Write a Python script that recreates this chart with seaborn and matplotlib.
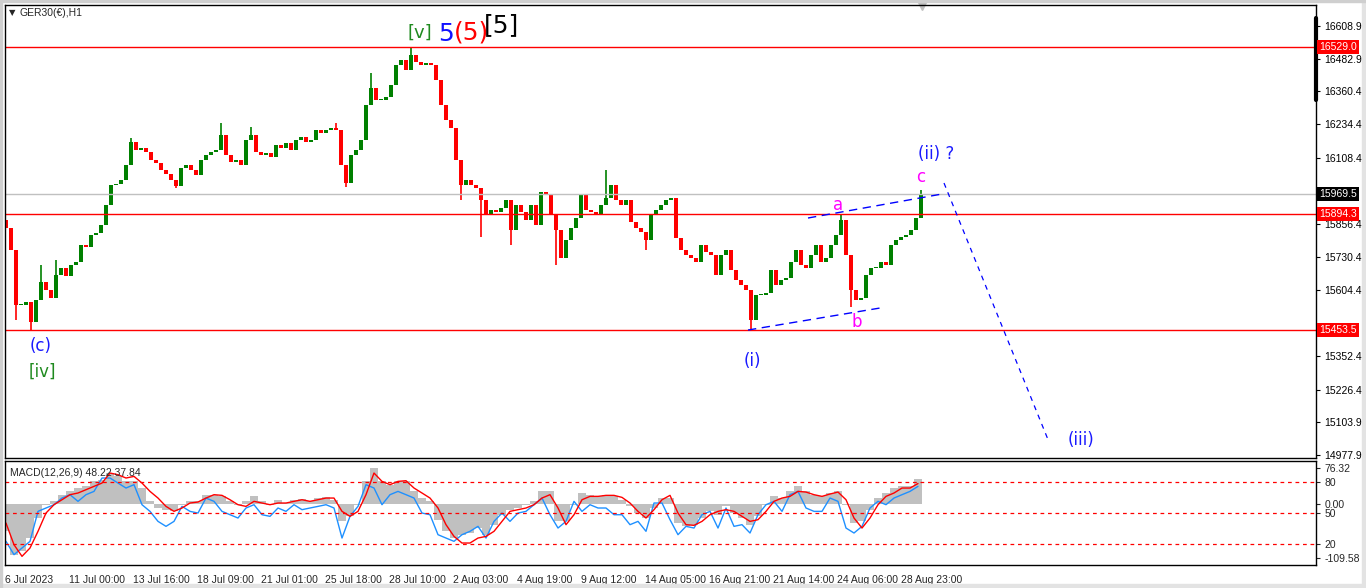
import numpy as np
import pandas as pd
import seaborn as sns
from matplotlib import pyplot as plt
from matplotlib import transforms
from matplotlib.patches import Rectangle

sns.set_style("white")
plt.rcParams['font.family'] = ['Liberation Sans', 'DejaVu Sans']

# GER30 H1 closes, one value every 5 hourly bars -->
closes = [
    15841, 15757, 15548, 15548, 15559, 15483, 15567, 15636, 15605, 15575,
    15662, 15689, 15658, 15700, 15712, 15776, 15769, 15814, 15822, 15852,
    15928, 16004, 16008, 16023, 16080, 16168, 16137, 16145, 16130, 16099,
    16088, 16061, 16046, 16023, 16000, 16069, 16080, 16061, 16042, 16099,
    16118, 16130, 16137, 16194, 16118, 16092, 16099, 16080, 16175, 16194,
    16130, 16118, 16126, 16111, 16156, 16145, 16164, 16137, 16175, 16187,
    16168, 16175, 16213, 16202, 16213, 16221, 16213, 16080, 16012, 16118,
    16137, 16175, 16308, 16373, 16327, 16327, 16339, 16385, 16461, 16480,
    16442, 16499, 16472, 16461, 16468, 16461, 16404, 16308, 16252, 16221,
    16099, 16004, 16023, 16004, 15993, 15947, 15890, 15909, 15902, 15917,
    15947, 15833, 15928, 15902, 15871, 15928, 15852, 15978, 15966, 15890,
    15833, 15727, 15795, 15841, 15879, 15966, 15909, 15902, 15890, 15928,
    15955, 16004, 15947, 15928, 15947, 15864, 15841, 15826, 15795, 15890,
    15909, 15928, 15947, 15955, 15803, 15757, 15738, 15727, 15712, 15776,
    15750, 15738, 15662, 15738, 15757, 15681, 15643, 15624, 15605, 15491,
    15586, 15586, 15594, 15681, 15624, 15643, 15651, 15712, 15757, 15700,
    15689, 15738, 15776, 15712, 15727, 15776, 15814, 15871, 15738, 15605,
    15567, 15575, 15662, 15689, 15689, 15712, 15700, 15776, 15795, 15807,
    15814, 15833, 15879, 15970]
first_open = 15871
bar_step = 5

# notable wick extremes (bar, price) -->
spike_bars = [9, 26, 35, 53, 126, 171, 215, 248, 331, 340, 366, 407, 455, 477,
              505, 552, 603, 640, 745, 834, 847, 917]
spike_prices = [15491, 15453, 15700, 15719, 16183, 15993, 16240, 16225, 16240, 15997,
                16430, 16529, 15947, 15807, 15776, 15700, 16061, 15757, 15453, 15894,
                15540, 15985]

# MACD panel, one value every 8 bars -->
macd_hist = [
    -49.4, -91.1, -85.2, -61.4, -25.6, -1.8, 4.2, 16.1, 22.0, 28.0,
    31.0, 39.9, 42.9, 54.8, 48.8, 39.9, 39.9, 28.0, 4.2, -7.7,
    -10.7, -13.7, -1.8, 4.2, 4.2, 16.1, 16.1, 13.1, 4.2, -1.8,
    4.2, 13.1, 4.2, -1.8, 7.1, 1.2, 7.1, 8.9, 4.2, 10.1,
    11.3, 7.1, -31.6, -22.6, -1.8, 39.9, 63.7, 39.9, 34.0, 39.9,
    39.9, 22.0, 10.1, 4.2, -28.6, -49.4, -61.4, -55.4,
    -52.4, -43.5, -55.4, -37.5, -19.7, -10.7, -7.7, -1.8, 4.2, 22.0,
    22.0, -31.6, -31.6, -1.8, 19.1, 16.1, 13.1, 16.1, 13.1, 7.1,
    -4.8, -16.7, -25.6, -7.7, 10.1, 10.1, -34.6, -40.5, -37.5, -25.6,
    -13.7, -19.7, -4.8, -16.7, -25.6, -37.5, -22.6, -1.8, 13.1, 10.1,
    22.0, 31.0, 22.0, 16.1, 13.1, 19.1, 22.0, -1.8, -34.6, -31.6,
    -10.7, 10.1, 19.1, 28.0, 31.0, 31.0, 44.0]
macd_signal = [
    -34.6, -73.3, -94.1, -79.2, -49.4, -16.7, -1.8, 7.1, 16.1, 19.1,
    25.0, 31.0, 36.9, 54.8, 51.8, 45.9, 48.8, 36.9, 22.0, 10.1,
    -4.8, -13.7, -7.7, 1.2, 3.0, 10.1, 16.1, 14.9, 7.1, -1.8,
    -4.8, 4.2, 1.2, -1.8, 1.2, 1.2, 4.2, 7.1, 4.2, 7.1,
    10.1, 10.1, -13.7, -22.6, -13.7, 16.1, 54.8, 39.9, 34.0, 39.9,
    41.1, 28.0, 19.1, 10.1, -7.7, -37.5, -58.4, -70.3,
    -70.3, -61.4, -58.4, -49.4, -31.6, -13.7, -10.7, -7.7, -1.8, 10.1,
    16.1, -7.7, -37.5, -19.7, 7.1, 13.1, 13.1, 14.9, 14.9, 11.3,
    1.2, -13.7, -25.6, -10.7, 7.1, 14.9, -16.7, -37.5, -38.7, -31.6,
    -19.7, -13.7, -10.7, -13.7, -22.6, -31.6, -28.6, -13.7, 4.2, 10.1,
    13.1, 22.0, 20.8, 16.1, 13.1, 17.3, 20.8, 7.1, -25.6, -43.5,
    -25.6, -1.8, 13.1, 19.1, 28.0, 28.0, 36.0]
macd_fast = [
    -67.3, -91.1, -79.2, -67.3, -13.7, -7.7, -1.8, 10.1, 16.1, 4.2,
    16.1, 22.0, 45.9, 45.9, 36.9, 28.0, 34.0, -1.8, -13.7, -31.6,
    -40.5, -31.6, -4.8, -13.7, -16.7, 10.1, 4.2, -13.7, -19.7, -25.6,
    -7.7, -1.8, -19.7, -22.6, -7.7, -13.7, -1.8, -10.7, -7.7, -4.8,
    -1.8, -7.7, -61.4, -22.6, -4.8, 34.0, 28.0, -1.8, 16.1, 22.0,
    16.1, 10.1, -16.7, -19.7, -55.4, -61.4, -67.3, -55.4,
    -49.4, -40.5, -61.4, -31.6, -16.7, -31.6, -16.7, -13.7, -1.8, 10.1,
    -19.7, -43.5, -31.6, 4.2, -13.7, -1.8, -7.7, -7.7, -19.7, -19.7,
    -37.5, -31.6, -49.4, 1.2, 1.2, -28.6, -55.4, -40.5, -43.5, -19.7,
    -13.7, -43.5, -7.7, -40.5, -37.5, -52.4, -19.7, -1.8, 4.2, -13.7,
    16.1, 22.0, -7.7, -13.7, -13.7, 10.1, 4.2, -43.5, -52.4, -40.5,
    -7.7, 4.2, -1.8, 10.1, 16.1, 22.0, 31.0]
macd_step = 8

# axis / levels -->
price_ticks = [16608.9, 16482.9, 16360.4, 16234.4, 16108.4, 15856.4, 15730.4,
               15604.4, 15352.4, 15226.4, 15103.9, 14977.9]
level_lines = [16529.0, 15894.3, 15453.5]
bid_price = 15969.5
macd_levels = [38.1, -16.6, -72.0]
macd_tick_pos = [64.3, 38.1, 0.0, -16.6, -72.0, -96.5]
macd_tick_lab = ['76.32', '80', '0.00', '50', '20', '-109.58']

time_ticks = [0, 64, 128, 192, 256, 320, 384, 448, 512, 576, 640, 704, 768, 832, 896]
time_labels = ['6 Jul 2023', '11 Jul 00:00', '13 Jul 16:00', '18 Jul 09:00', '21 Jul 01:00',
               '25 Jul 18:00', '28 Jul 10:00', '2 Aug 03:00', '4 Aug 19:00', '9 Aug 12:00',
               '14 Aug 05:00', '16 Aug 21:00', '21 Aug 14:00', '24 Aug 06:00', '28 Aug 23:00']

# elliott wave labels: text, bar, price, colour, size -->
wave_text = ['[v]', '5', '(5)', '[5]', '(c)', '[iv]', '(i)', 'a', 'b', 'c', '(ii) ?', '(iii)']
wave_bar = [415, 441, 466, 497, 36, 37, 747, 833, 852, 916, 931, 1076]
wave_price = [16582, 16577, 16585, 16612, 15392, 15293, 15335, 15928, 15483, 16035, 16122, 15035]
wave_color = ['#1f8a1f', '#1010ff', '#ff0000', '#000000', '#1a1aff', '#1f8a1f', '#1a1aff',
              '#ff00ff', '#ff00ff', '#ff00ff', '#1a1aff', '#1a1aff']
wave_size = [13, 18, 18, 18, 12, 12, 12, 12, 12, 12, 12, 12]

# trend lines (bar, price) -->
upper_bars, upper_prices = [803, 937], [15878.9, 15970.1]
lower_bars, lower_prices = [743, 875], [15453.0, 15536.7]
proj_bars, proj_prices = [939, 1044], [16011.9, 15027.2]


fig = plt.figure(figsize=(13.66, 5.88), dpi=100)
# light grey window edges
fig.patches.append(Rectangle((0, 0), 1, 4 / 588, transform=fig.transFigure, color='#e3e3e3', zorder=0))
fig.patches.append(Rectangle((1362 / 1366, 0), 4 / 1366, 1, transform=fig.transFigure, color='#e3e3e3', zorder=0))
fig.patches.append(Rectangle((0, 0), 2 / 1366, 1, transform=fig.transFigure, color='#cfcfcf', zorder=0))
fig.patches.append(Rectangle((0, 586 / 588), 1, 2 / 588, transform=fig.transFigure, color='#cfcfcf', zorder=0))

ax = fig.add_axes([5 / 1366, 130 / 588, 1311 / 1366, 453 / 588])
ax2 = fig.add_axes([5 / 1366, 23 / 588, 1311 / 1366, 104 / 588])

# Candles -->
candles = pd.DataFrame({'close': closes})
candles['open'] = [first_open] + closes[:-1]
candles['bar'] = 1 + bar_step * np.arange(len(candles))
diff = candles['close'] - candles['open']
height = np.where(diff.abs() < 3, 3, diff)
colors = np.where(diff >= 0, '#008000', '#ff0000')
ax.bar(candles['bar'], height, bottom=candles['open'], width=4.0, color=colors, linewidth=0)

# wicks for the spikes
for b, p in zip(spike_bars, spike_prices):
    i = int(round((b - 1) / bar_step))
    o, c = candles['open'][i], candles['close'][i]
    base = max(o, c) if p > max(o, c) else min(o, c)
    ax.vlines(candles['bar'][i], base, p, color=colors[i], lw=1.2)

for lv in level_lines:
    ax.axhline(lv, color='#ff0000', lw=1)
ax.axhline(bid_price, color='#c0c0c0', lw=1)

ax.plot(upper_bars, upper_prices, color='#0000ff', lw=1, dashes=(6, 4))
ax.plot(lower_bars, lower_prices, color='#0000ff', lw=1, dashes=(6, 4))
ax.plot(proj_bars, proj_prices, color='#0000ff', lw=0.9, dashes=(4, 4))

for t, b, p, c, s in zip(wave_text, wave_bar, wave_price, wave_color, wave_size):
    ax.text(b, p, t, color=c, fontsize=s, ha='center', va='center', family='DejaVu Sans')

ax.set_xlim(0, 1311)
ax.set_ylim(14966.5, 16688.7)
ax.yaxis.tick_right()
ax.set_yticks(price_ticks)
ax.set_yticklabels(['%.1f' % v for v in price_ticks])
ax.tick_params(axis='y', direction='out', length=3, labelsize=7.5, pad=3, colors='black')
ax.set_xticks([])

# price boxes on the right axis -->
trans = transforms.blended_transform_factory(ax.transAxes, ax.transData)
for lv in level_lines:
    ax.text(1.0025, lv, '%.1f' % lv, transform=trans, fontsize=7.5, color='white',
            ha='left', va='center', bbox=dict(boxstyle='square,pad=0.2', fc='#ff0000', ec='none'))
ax.text(1.0025, bid_price, '%.1f' % bid_price, transform=trans, fontsize=7.5, color='white',
        ha='left', va='center', bbox=dict(boxstyle='square,pad=0.2', fc='black', ec='none'))

ax.text(0.0053, 0.983, '\u25bc', transform=ax.transAxes, fontsize=6, va='center', ha='center',
        family='DejaVu Sans')
ax.text(0.0114, 0.982, 'GER30(\u20ac),H1', transform=ax.transAxes, fontsize=7.5, va='center')
ax.plot([917], [16683], marker='v', color='#c0c0c0', ms=6, clip_on=False)
ax.plot([1.0, 1.0], [0.971, 0.790], transform=ax.transAxes, color='black', lw=3, clip_on=False)

# MACD -->
macd = pd.DataFrame({'hist': macd_hist, 'signal': macd_signal, 'fast': macd_fast})
macd['bar'] = 1 + macd_step * np.arange(len(macd))
ax2.bar(macd['bar'], macd['hist'], width=macd_step, color='#c0c0c0', linewidth=0)
sns.lineplot(data=macd, x='bar', y='fast', ax=ax2, color='#1e90ff', lw=1)
sns.lineplot(data=macd, x='bar', y='signal', ax=ax2, color='#ff0000', lw=1)
for lv in macd_levels:
    ax2.axhline(lv, color='#ff0000', lw=0.9, dashes=(3, 3))

ax2.set_xlim(0, 1311)
ax2.set_ylim(-109.58, 76.32)
ax2.yaxis.tick_right()
ax2.set_yticks(macd_tick_pos)
ax2.set_yticklabels(macd_tick_lab)
ax2.tick_params(axis='y', direction='out', length=3, labelsize=7.5, pad=3)
ax2.set_xticks(time_ticks)
ax2.set_xticklabels(time_labels, ha='left')
ax2.tick_params(axis='x', direction='out', length=4, labelsize=7.5, pad=3)
ax2.set_xlabel('')
ax2.set_ylabel('')
ax2.text(0.004, 0.93, 'MACD(12,26,9) 48.22 37.84', transform=ax2.transAxes, fontsize=7.5, va='top')

for a in (ax, ax2):
    for sp in a.spines.values():
        sp.set_color('black')
        sp.set_linewidth(1)

fig.savefig('out.png', dpi=100, facecolor='white')
